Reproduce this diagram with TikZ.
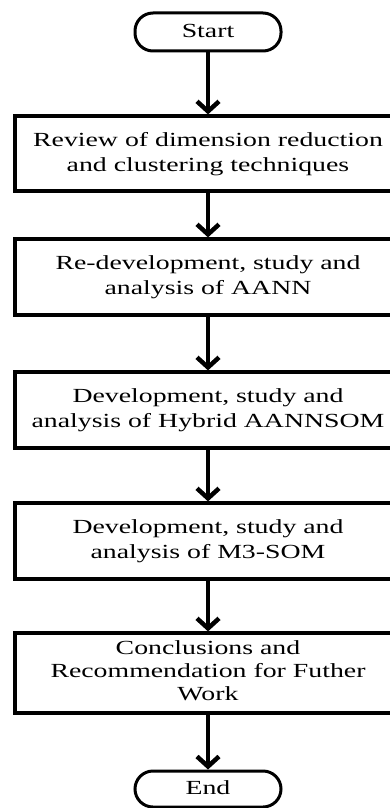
\documentclass[tikz,border=0pt]{standalone}
\usepackage{fontspec}
\setmainfont{Liberation Serif}
\usetikzlibrary{arrows.meta}
\newcommand\tx[2][1]{\scalebox{1.39}[1]{\renewcommand\arraystretch{#1}\begin{tabular}{@{}c@{}}#2\end{tabular}}}
\tikzset{
  term/.style={draw, line width=3pt, rounded corners=18pt, minimum width=146pt, minimum height=38pt, inner sep=0pt},
  procbox/.style={draw, line width=3.2pt, minimum width=386pt, inner sep=0pt},
  flow/.style={line width=4.5pt, -{Straight Barb[length=10pt,width=22pt]}}
}
\begin{document}
\begin{tikzpicture}[x=1pt,y=-1pt, font=\fontsize{20}{25}\selectfont]
\clip (0,0) rectangle (390,808);
\node[term] (start) at (208,32) {\tx{Start}};
\node[procbox, minimum height=75pt] (b1) at (208,153.5) {\tx{Review of dimension reduction\\and clustering techniques}};
\node[procbox, minimum height=76pt] (b2) at (208,277) {\tx{Re-development, study and\\analysis of AANN}};
\node[procbox, minimum height=76pt] (b3) at (208,410) {\tx{Development, study and\\analysis of Hybrid AANNSOM}};
\node[procbox, minimum height=76pt] (b4) at (208,541) {\tx{Development, study and\\analysis of M3-SOM}};
\node[procbox, minimum height=80pt] (b5) at (208,673) {\tx[0.92]{Conclusions and\\Recommendation for Futher\\Work}};
\node[term, minimum height=36pt] (end) at (208,789) {\tx{End}};
\draw[flow] (start) -- (b1);
\draw[flow] (b1) -- (b2);
\draw[flow] (b2) -- (b3);
\draw[flow] (b3) -- (b4);
\draw[flow] (b4) -- (b5);
\draw[flow] (b5) -- (end);
\end{tikzpicture}
\end{document}
